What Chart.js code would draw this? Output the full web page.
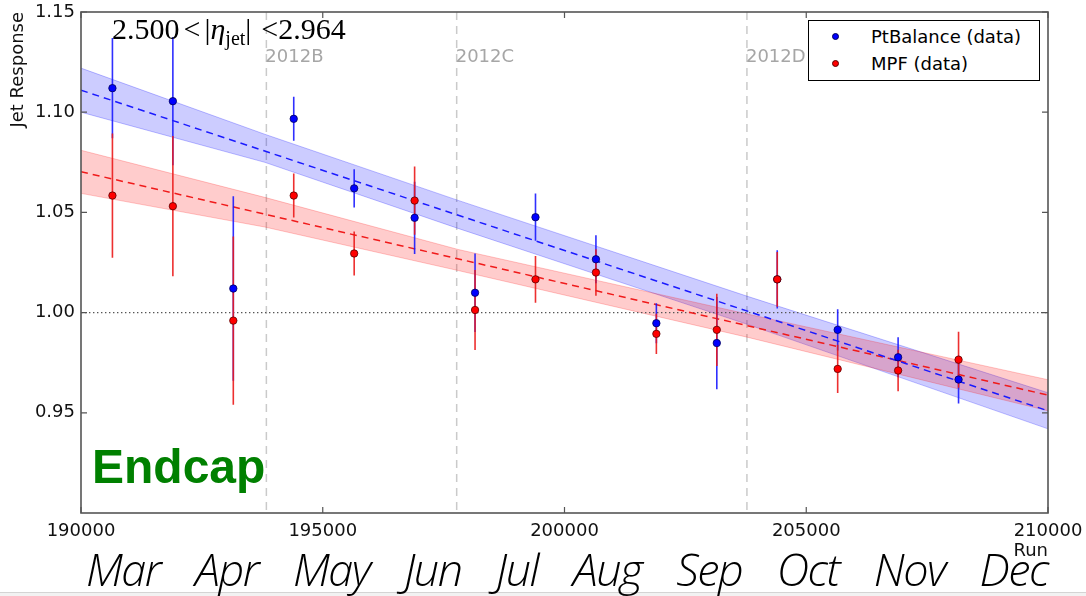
<!DOCTYPE html>
<html>
<head>
<meta charset="utf-8">
<script src="https://cdn.jsdelivr.net/npm/chart.js@4/dist/chart.umd.min.js"></script>
<style>
  html, body { margin: 0; padding: 0; background: #fff; }
  #wrap { position: relative; width: 1086px; height: 596px; overflow: hidden; background: #fff; }
  #c { position: absolute; left: 0; top: 0; }
  #eta { position: absolute; left: 112px; top: 14px; font: 30px/30px "Liberation Serif", serif; color: #000; white-space: nowrap; }
  #eta i { font-style: italic; }
  #eta sub { font-size: 20px; vertical-align: -6px; line-height: 0; }
  #region { position: absolute; left: 92px; top: 443px; font: bold 48px/48px "Liberation Sans", Arial, sans-serif; color: #008000; }
  #legend { position: absolute; left: 808px; top: 20px; width: 230px; height: 59px; border: 1px solid #000; background: #fff; box-sizing: content-box; }
  .lg-row { position: absolute; left: 0; height: 20px; width: 100%; font: 18px/20px "DejaVu Sans", sans-serif; color: #000; white-space: nowrap; }
  .lg-dot { position: absolute; left: 23px; top: 6px; width: 7px; height: 7px; border-radius: 50%; box-sizing: border-box; }
  .lg-txt { position: absolute; left: 62px; top: 0; }
  #months { position: absolute; left: 86px; width: 962px; top: 546px; display: flex; justify-content: space-between; font: italic 350 45px/45px "Open Sans", "Noto Sans", sans-serif; letter-spacing: -1.5px; color: #000; }
  #edge { position: absolute; left: 0; top: 592px; width: 1086px; height: 4px; background: #f2f2f2; border-top: 1px solid #d4d4d4; }
</style>
</head>
<body>
<div id="wrap">
  <canvas id="c" width="1086" height="596"></canvas>
  <div id="eta">2.500<span style="margin-left:4px">&lt;</span><span style="margin-left:4px">|</span><i>η</i><sub>jet</sub>|<span style="margin-left:10px">&lt;</span>2.964</div>
  <div id="region">Endcap</div>
  <div id="legend"></div>
  <div id="edge"></div>
  <div id="months"></div>
</div>
<script>
// Run number at the centre of each run bin
const runs = [190650, 191900, 193150, 194400, 195650, 196900, 198150, 199400,
              200650, 201900, 203150, 204400, 205650, 206900, 208150];

// PtBalance response and its uncertainty
const ptBalance    = [1.112, 1.1055, 1.012, 1.0967, 1.062, 1.0473, 1.0099, 1.0476,
                      1.0266, 0.9947, 0.9848, 1.0166, 0.9914, 0.9777, 0.9666];
const ptBalanceErr = [0.025, 0.032, 0.046, 0.011, 0.0095, 0.018, 0.0196, 0.0118,
                      0.012, 0.010, 0.023, 0.0145, 0.0103, 0.010, 0.012];

// MPF response and its uncertainty
const mpf    = [1.0584, 1.0531, 0.996, 1.0584, 1.0295, 1.0559, 1.0013, 1.0166,
                1.020, 0.9894, 0.9914, 1.0166, 0.9719, 0.9711, 0.9765];
const mpfErr = [0.031, 0.035, 0.042, 0.011, 0.011, 0.017, 0.020, 0.0117,
                0.0116, 0.010, 0.018, 0.0137, 0.012, 0.0103, 0.014];

// Linear fits (end points) and their uncertainty bands
const fitRuns      = [190000, 210000];
const ptBalanceFit = [1.111, 0.951];
const mpfFit       = [1.0703, 0.9588];
const bandRuns        = [190000, 193800, 197800, 203800, 210000];
const ptBalanceBandHi = [1.122, 1.089, 1.056, 1.008, 0.960];
const ptBalanceBandLo = [1.100, 1.075, 1.042, 0.994, 0.942];
const mpfBandHi       = [1.081, 1.0575, 1.0315, 0.9992, 0.9665];
const mpfBandLo       = [1.0595, 1.0427, 1.021, 0.9876, 0.951];

// Run periods
const periodStarts = [193834, 197770, 203773];
const periodNames  = ['2012B', '2012C', '2012D'];

// Axis ticks and labels
const xTicks = [190000, 195000, 200000, 205000, 210000];
const yTickLabels = ['0.95', '1.00', '1.05', '1.10', '1.15'];
const months = ['Mar', 'Apr', 'May', 'Jun', 'Jul', 'Aug', 'Sep', 'Oct', 'Nov', 'Dec'];

const seriesNames = ['PtBalance (data)', 'MPF (data)'];
const seriesFill  = ['#0000ff', '#ff0000'];
const seriesEdge  = ['#00005a', '#5a0000'];

const pts = (xs, ys) => xs.map((r, i) => ({ x: r, y: ys[i] }));

// Dashed run-period boundaries and their names
const periodPlugin = {
  id: 'runPeriods',
  beforeDatasetsDraw(chart) {
    const { ctx, chartArea: a, scales: { x } } = chart;
    ctx.save();
    ctx.strokeStyle = '#cacaca';
    ctx.lineWidth = 1.5;
    ctx.setLineDash([8, 6]);
    periodStarts.forEach(r => {
      const px = x.getPixelForValue(r);
      ctx.beginPath();
      ctx.moveTo(px, a.top);
      ctx.lineTo(px, a.bottom);
      ctx.stroke();
    });
    ctx.setLineDash([]);
    ctx.fillStyle = '#a6a6a6';
    ctx.font = '18px "DejaVu Sans", sans-serif';
    ctx.textBaseline = 'middle';
    ctx.textAlign = 'left';
    periodStarts.forEach((r, i) => ctx.fillText(periodNames[i], x.getPixelForValue(r) - 1, a.top + 45));
    ctx.restore();
  }
};

// Vertical error bars, drawn under the markers
const errorBarPlugin = {
  id: 'errorBars',
  beforeDatasetDraw(chart, args) {
    if (args.index !== 0) return;
    const { ctx, scales: { x, y } } = chart;
    ctx.save();
    ctx.lineWidth = 1.6;
    [[ptBalance, ptBalanceErr, 'rgba(25,25,255,0.9)'],
     [mpf, mpfErr, 'rgba(235,25,25,0.9)']].forEach(([vals, errs, col]) => {
      ctx.strokeStyle = col;
      ctx.beginPath();
      vals.forEach((v, i) => {
        const px = x.getPixelForValue(runs[i]);
        ctx.moveTo(px, y.getPixelForValue(v + errs[i]));
        ctx.lineTo(px, y.getPixelForValue(v - errs[i]));
      });
      ctx.stroke();
    });
    ctx.restore();
  }
};

// Axes frame with inward tick marks on all four sides
const framePlugin = {
  id: 'frame',
  afterDatasetsDraw(chart) {
    const { ctx, chartArea: a, scales: { x, y } } = chart;
    ctx.save();
    ctx.strokeStyle = '#555';
    ctx.lineWidth = 1.6;
    ctx.strokeRect(a.left, a.top, a.right - a.left, a.bottom - a.top);
    ctx.lineWidth = 1.2;
    ctx.beginPath();
    x.ticks.forEach(t => {
      const px = x.getPixelForValue(t.value);
      ctx.moveTo(px, a.bottom); ctx.lineTo(px, a.bottom - 6);
      ctx.moveTo(px, a.top);    ctx.lineTo(px, a.top + 6);
    });
    y.ticks.forEach(t => {
      const py = y.getPixelForValue(t.value);
      ctx.moveTo(a.left, py);  ctx.lineTo(a.left + 6, py);
      ctx.moveTo(a.right, py); ctx.lineTo(a.right - 6, py);
    });
    ctx.stroke();
    ctx.restore();
  }
};

const tickFont = { family: '"DejaVu Sans", sans-serif', size: 18 };

new Chart(document.getElementById('c'), {
  type: 'scatter',
  data: {
    datasets: [
      { label: seriesNames[0], data: pts(runs, ptBalance), order: 1,
        pointRadius: 3.7, pointBackgroundColor: seriesFill[0], pointBorderColor: seriesEdge[0], pointBorderWidth: 0.8 },
      { label: seriesNames[1], data: pts(runs, mpf), order: 0,
        pointRadius: 3.7, pointBackgroundColor: seriesFill[1], pointBorderColor: seriesEdge[1], pointBorderWidth: 0.8 },
      { data: pts(fitRuns, ptBalanceFit), showLine: true, pointRadius: 0, order: 3,
        borderColor: '#1a1aff', borderWidth: 1.5, borderDash: [7, 5] },
      { data: pts(fitRuns, mpfFit), showLine: true, pointRadius: 0, order: 3,
        borderColor: '#f01a1a', borderWidth: 1.5, borderDash: [7, 5] },
      { data: pts(fitRuns, [1, 1]), showLine: true, pointRadius: 0, order: 4,
        borderColor: '#555', borderWidth: 1.4, borderDash: [1.4, 2.6] },
      { data: pts(bandRuns, ptBalanceBandHi), showLine: true, pointRadius: 0, order: 6, fill: '+1',
        borderColor: 'rgba(0,0,255,0.25)', borderWidth: 1, backgroundColor: 'rgba(0,0,255,0.2)' },
      { data: pts(bandRuns, ptBalanceBandLo), showLine: true, pointRadius: 0, order: 6,
        borderColor: 'rgba(0,0,255,0.25)', borderWidth: 1 },
      { data: pts(bandRuns, mpfBandHi), showLine: true, pointRadius: 0, order: 5, fill: '+1',
        borderColor: 'rgba(255,0,0,0.22)', borderWidth: 1, backgroundColor: 'rgba(255,0,0,0.2)' },
      { data: pts(bandRuns, mpfBandLo), showLine: true, pointRadius: 0, order: 5,
        borderColor: 'rgba(255,0,0,0.22)', borderWidth: 1 }
    ]
  },
  options: {
    responsive: false,
    animation: false,
    devicePixelRatio: 1,
    layout: { padding: { top: 12, right: 38, bottom: 33, left: 0 } },
    plugins: { legend: { display: false }, tooltip: { enabled: false } },
    scales: {
      x: {
        type: 'linear', min: 190000, max: 210000,
        grid: { display: false, drawTicks: false },
        border: { display: false },
        afterBuildTicks: s => { s.ticks = xTicks.map(v => ({ value: v })); },
        afterFit: s => { s.height = 50; s.paddingLeft = 0; s.paddingRight = 0; },
        ticks: { font: tickFont, color: '#111', padding: 8, maxRotation: 0, autoSkip: false,
                 callback: v => String(v) },
        title: { display: true, text: 'Run', align: 'end', font: tickFont, color: '#111',
                 padding: { top: 0, bottom: 1 } }
      },
      y: {
        type: 'linear', min: 0.90, max: 1.15,
        grid: { display: false, drawTicks: false },
        border: { display: false },
        afterBuildTicks: s => { s.ticks = yTickLabels.map(v => ({ value: parseFloat(v) })); },
        afterFit: s => { s.width = 81; s.paddingTop = 0; s.paddingBottom = 0; },
        ticks: { font: tickFont, color: '#111', padding: 6,
                 callback: v => v.toFixed(2) },
        title: { display: true, text: 'Jet Response', align: 'end', font: tickFont, color: '#111',
                 padding: { top: 8, bottom: 0 } }
      }
    }
  },
  plugins: [periodPlugin, errorBarPlugin, framePlugin]
});

// Legend box
const legend = document.getElementById('legend');
seriesNames.forEach((name, i) => {
  const row = document.createElement('div');
  row.className = 'lg-row';
  row.style.top = (6 + i * 27) + 'px';
  const dot = document.createElement('span');
  dot.className = 'lg-dot';
  dot.style.background = seriesFill[i];
  dot.style.border = '0.8px solid ' + seriesEdge[i];
  const txt = document.createElement('span');
  txt.className = 'lg-txt';
  txt.textContent = name;
  row.appendChild(dot);
  row.appendChild(txt);
  legend.appendChild(row);
});

// Month row under the run axis
const monthRow = document.getElementById('months');
months.forEach(m => {
  const s = document.createElement('span');
  s.textContent = m;
  monthRow.appendChild(s);
});
</script>
</body>
</html>
